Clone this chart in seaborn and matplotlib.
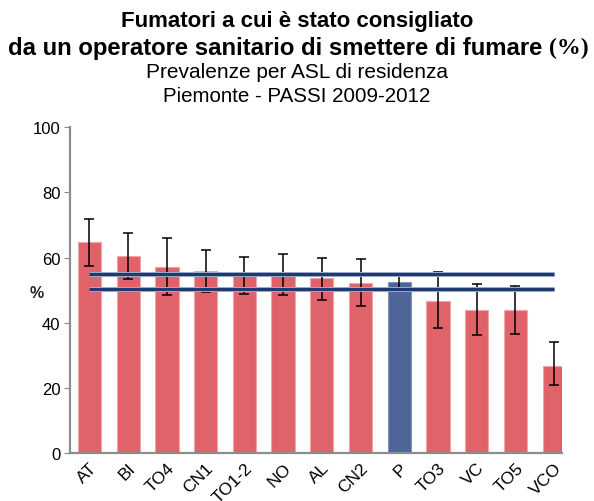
import matplotlib
matplotlib.use("Agg")
import matplotlib.pyplot as plt
import seaborn as sns
import pandas as pd

# data
asl = ['AT', 'BI', 'TO4', 'CN1', 'TO1-2', 'NO', 'AL', 'CN2', 'P', 'TO3', 'VC', 'TO5', 'VCO']
prev = [64.7, 60.5, 57.2, 56.0, 55.0, 54.8, 53.6, 52.3, 52.4, 46.6, 43.9, 43.9, 26.7]
ci_low = [57.5, 53.4, 48.5, 49.3, 48.9, 48.5, 46.9, 45.2, 50.1, 38.3, 36.3, 36.6, 20.9]
ci_high = [71.8, 67.4, 66.1, 62.4, 60.3, 61.2, 59.9, 59.5, 54.7, 55.5, 51.8, 51.3, 34.0]
piemonte_low = 50.3
piemonte_high = 54.8

df = pd.DataFrame({'asl': asl, 'prev': prev, 'lo': ci_low, 'hi': ci_high})
red = '#E0636A'
blue = '#4F6497'
colors = [blue if a == 'P' else red for a in asl]

sns.set_style('white')
plt.rcParams['font.family'] = ['Liberation Sans', 'DejaVu Sans']
plt.rcParams['text.color'] = 'black'
plt.rcParams['xtick.color'] = 'black'
plt.rcParams['ytick.color'] = 'black'

fig = plt.figure(figsize=(5.94, 5.02), dpi=100)
ax = fig.add_axes([0.118, 0.0956, 0.828, 0.649])

sns.barplot(data=df, x='asl', y='prev', hue='asl', palette=colors, legend=False,
            width=0.6, saturation=1, ax=ax, edgecolor='#F0A6AA', linewidth=0.8)
ax.patches[8].set_edgecolor('#8494BE')

ax.errorbar(range(len(asl)), df['prev'],
            yerr=[df['prev'] - df['lo'], df['hi'] - df['prev']],
            fmt='none', ecolor='black', elinewidth=1.1, capsize=3.5, capthick=1.1, zorder=3)

# Piemonte confidence interval lines
for yv in (piemonte_low, piemonte_high):
    ax.plot([0, len(asl) - 1], [yv, yv], color='#A9B4D0', lw=3.6, solid_capstyle='butt', zorder=4)
    ax.plot([0, len(asl) - 1], [yv, yv], color='#1F3A72', lw=2.3, solid_capstyle='butt', zorder=5)

ax.set_ylim(0, 100)
ax.set_xlim(-0.5, 12.2)
ax.set_yticks([0, 20, 40, 60, 80, 100])
ax.tick_params(axis='y', labelsize=12, length=4, color='#888888', labelcolor='black',
               direction='out', left=True, pad=3)
ax.tick_params(axis='x', labelsize=12.5, length=0, pad=5, labelcolor='black')
ax.set_xticks(range(len(asl)))
ax.set_xticklabels(asl, rotation=45, ha='right', va='top', rotation_mode='anchor')
ax.set_xlabel('')
ax.set_ylabel('%', rotation=0, fontsize=11.5, fontweight='bold', va='center', ha='center')
ax.yaxis.set_label_coords(-0.067, 0.494)
for s in ('top', 'right'):
    ax.spines[s].set_visible(False)
for s in ('left', 'bottom'):
    ax.spines[s].set_color('#8C8C8C')
    ax.spines[s].set_linewidth(1.6)

fig.text(0.5, 0.958, 'Fumatori a cui è stato consigliato', ha='center', va='center',
         fontsize=16, fontweight='bold')
# second title line: main text plus "(%)" in a serif face
t1 = fig.text(0, 0.904, 'da un operatore sanitario di smettere di fumare ', ha='left', va='center',
              fontsize=17.2, fontweight='bold')
t2 = fig.text(0, 0.904, '(%)', ha='left', va='center', fontsize=17.2, fontweight='bold',
              family=['Liberation Serif', 'DejaVu Serif'])
fig.canvas.draw()
r = fig.canvas.get_renderer()
w1 = t1.get_window_extent(r).width / fig.bbox.width
w2 = t2.get_window_extent(r).width / fig.bbox.width
x0 = 0.5 - (w1 + w2) / 2 + 0.003
t1.set_x(x0)
t2.set_x(x0 + w1)
fig.text(0.5, 0.855, 'Prevalenze per ASL di residenza', ha='center', va='center', fontsize=15)
fig.text(0.5, 0.807, 'Piemonte - PASSI 2009-2012', ha='center', va='center', fontsize=14.8)

fig.savefig('out.png', dpi=100)
